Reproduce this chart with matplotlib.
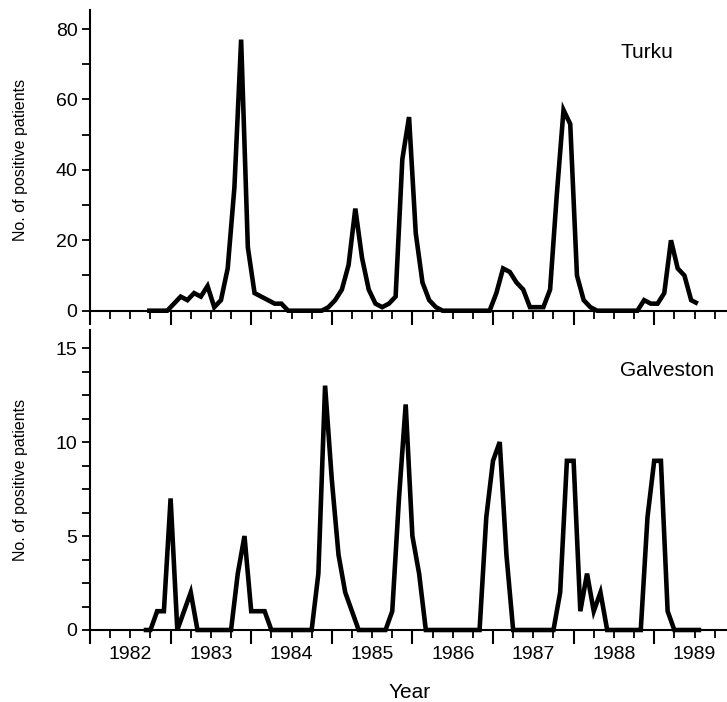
import numpy as np
import matplotlib
matplotlib.use("Agg")
import matplotlib.pyplot as plt
from matplotlib.ticker import FixedLocator, FuncFormatter

plt.rcParams['font.family'] = ['Liberation Sans', 'DejaVu Sans']

# ---- data (monthly counts) ----
# Turku: Sep 1982 .. Jul 1989 (month index from Jan 1982 = 0)
turku_start = 8
turku = [0, 0, 0, 0, 2, 4, 3, 5, 4, 7, 1, 3, 12, 35, 77, 18, 5, 4, 3, 2, 2,
         0, 0, 0, 0, 0, 0, 1, 3, 6, 13, 29, 15, 6, 2, 1, 2, 4, 43, 55, 22, 8, 3, 1, 0,
         0, 0, 0, 0, 0, 0, 0, 5, 12, 11, 8, 6, 1, 1, 1, 6, 33, 57, 53, 10, 3, 1, 0,
         0, 0, 0, 0, 0, 0, 3, 2, 2, 5, 20, 12, 10, 3, 2]
# Galveston: Sep 1982 .. Aug 1989
galv_start = 8
galveston = [0, 0, 1, 1, 7, 0, 1, 2, 0, 0, 0, 0, 0, 0, 3, 5, 1, 1, 1, 0,
             0, 0, 0, 0, 0, 0, 3, 13, 8, 4, 2, 1, 0, 0, 0, 0, 0, 1, 7, 12, 5, 3, 0,
             0, 0, 0, 0, 0, 0, 0, 0, 6, 9, 10, 4, 0, 0, 0, 0, 0, 0, 0,
             2, 9, 9, 1, 3, 1, 2, 0, 0, 0, 0, 0, 0, 6, 9, 9, 1, 0, 0, 0, 0, 0]
years = [1982, 1983, 1984, 1985, 1986, 1987, 1988, 1989]
city_names = ["Turku", "Galveston"]

turku_x = 1982 + (turku_start + np.arange(len(turku)) + 0.5) / 12.0
galv_x = 1982 + (galv_start + np.arange(len(galveston))) / 12.0

W, H = 727, 702
fig = plt.figure(figsize=(W / 100, H / 100), dpi=100)

left = 90 / W
width = (8 * 80.6) / W
ax1 = fig.add_axes([left, (H - 310.7) / H, width, 300.7 / H])
ax2 = fig.add_axes([left, (H - 630) / H, width, 300 / H])

for ax in (ax1, ax2):
    for s in ('top', 'right'):
        ax.spines[s].set_visible(False)
    for s in ('left', 'bottom'):
        ax.spines[s].set_linewidth(1.5)
        ax.spines[s].set_color('black')
    ax.set_xlim(1982, 1990)
    ax.xaxis.set_major_locator(FixedLocator(years + [1990]))
    quarters = [y + q / 4 for y in years for q in (1, 2, 3)]
    ax.xaxis.set_minor_locator(FixedLocator(quarters))
    ax.tick_params(axis='x', which='major', direction='out', length=10, width=1.5,
                   labelbottom=False)
    ax.tick_params(axis='x', which='minor', direction='out', length=5.5, width=1.3)
    ax.tick_params(axis='y', which='both', direction='out', length=6, width=1.3,
                   labelsize=14, pad=3)

# top panel
ax1.plot(turku_x, turku, color='black', lw=3.3, solid_joinstyle='miter',
         solid_capstyle='butt', clip_on=False)
ax1.set_ylim(0, 85.4)
ax1.yaxis.set_major_locator(FixedLocator([0, 20, 40, 60, 80]))
ax1.yaxis.set_minor_locator(FixedLocator([10, 30, 50, 70]))
ax1.tick_params(axis='x', which='minor', labelbottom=False)
ax1.text(647 / W, 1 - 52 / H, city_names[0], transform=fig.transFigure,
         ha='center', va='center', fontsize=15)

# bottom panel
ax2.plot(galv_x, galveston, color='black', lw=3.3, solid_joinstyle='miter',
         solid_capstyle='butt', clip_on=False)
ax2.set_ylim(0, 15.96)
ax2.yaxis.set_major_locator(FixedLocator([0, 5, 10, 15]))
ax2.yaxis.set_minor_locator(FixedLocator([1.25, 2.5, 3.75, 6.25, 7.5, 8.75,
                                          11.25, 12.5, 13.75]))


def year_fmt(x, pos):
    if abs((x % 1) - 0.5) < 1e-6:
        return str(int(np.floor(x)))
    return ''


ax2.xaxis.set_minor_formatter(FuncFormatter(year_fmt))
ax2.tick_params(axis='x', which='minor', labelbottom=True, labelsize=14, pad=6)
ax2.text(667 / W, 1 - 370 / H, city_names[1], transform=fig.transFigure,
         ha='center', va='center', fontsize=15)

for ax in (ax1, ax2):
    ax.set_ylabel("No. of positive patients", fontsize=11.5)
    ax.yaxis.set_label_coords(-0.096, 0.5)

ax2.set_xlabel("Year", fontsize=15)
ax2.xaxis.set_label_coords((410 - 90) / 644.8, -0.175)

fig.savefig("out.png", dpi=100)
